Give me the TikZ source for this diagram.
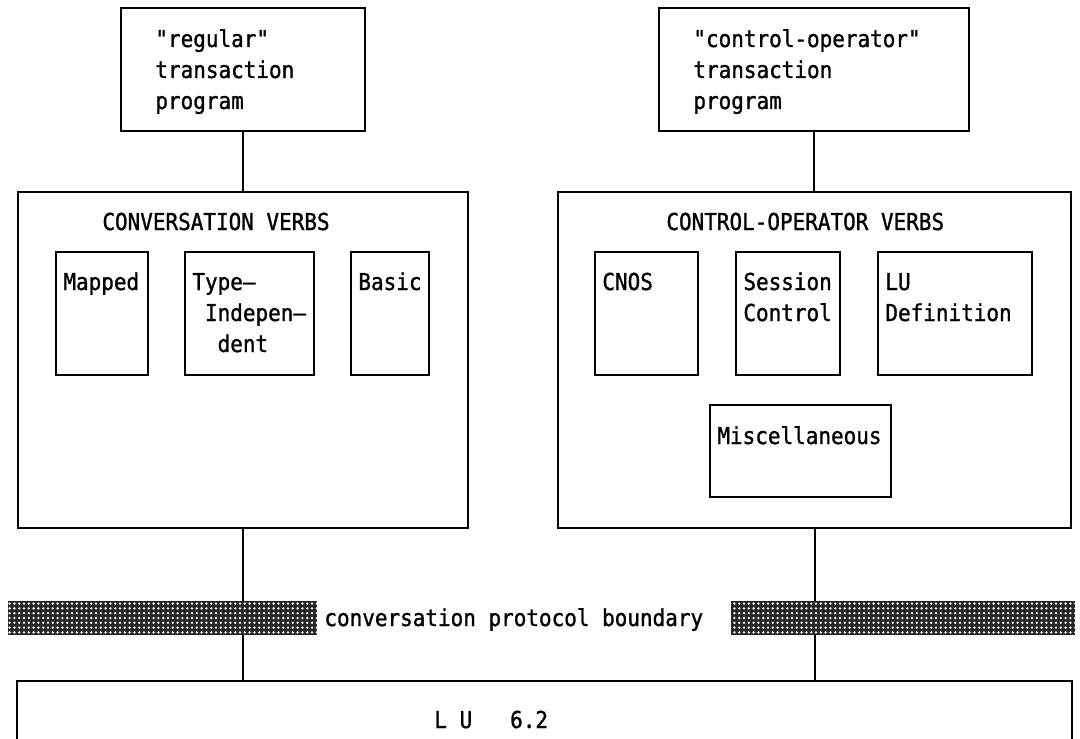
\documentclass[tikz,border=0pt]{standalone}
\usepackage{fontspec}
\newfontfamily\ibmfont[FakeStretch=0.9,FakeBold=1.2]{DejaVu Sans Mono}
\newcommand\ibmtext{\ibmfont\fontsize{11.65pt}{15.5pt}\selectfont}
\usetikzlibrary{patterns.meta}

\begin{document}
\begin{tikzpicture}[x=1pt,y=-1pt]
  \useasboundingbox (0,0) rectangle (540,369);
  \begin{scope}[every node/.style={draw,line width=1pt,anchor=north west,inner sep=0pt}]
  \node[minimum width=122pt,minimum height=61.5pt] (regtp) at (60,3.5) {};
  \node[minimum width=155pt,minimum height=61.5pt] (coptp) at (329,3.5) {};
  \node[minimum width=225pt,minimum height=168pt] (convverbs) at (8.5,95.5) {};
  \node[minimum width=256.5pt,minimum height=168pt] (copverbs) at (278.5,95.5) {};
  \node[minimum width=46pt,minimum height=61.5pt] (mapped) at (27.5,125.5) {};
  \node[minimum width=64.5pt,minimum height=61.5pt] (typeind) at (92,125.5) {};
  \node[minimum width=39pt,minimum height=61.5pt] (basic) at (175,125.5) {};
  \node[minimum width=51.5pt,minimum height=61.5pt] (cnos) at (297,125.5) {};
  \node[minimum width=52pt,minimum height=61.5pt] (sesctl) at (367.5,125.5) {};
  \node[minimum width=77pt,minimum height=61.5pt] (ludef) at (438.5,125.5) {};
  \node[minimum width=90.5pt,minimum height=46pt] (misc) at (354.5,202) {};
  \node[minimum width=527.5pt,minimum height=40pt] (lu) at (8,340) {};
  \end{scope}
  \begin{scope}[every edge/.style={draw=black,line width=1pt}]
  \path (regtp.south) edge (regtp.south |- convverbs.north);
  \path (coptp.south) edge (coptp.south |- copverbs.north);
  \path (convverbs.south) edge (convverbs.south |- lu.north);
  \path (copverbs.south) edge (copverbs.south |- lu.north);
  \end{scope}
  \begin{scope}[every node/.style={anchor=north west,inner sep=0pt,minimum height=17pt,
      preaction={fill=black!85},pattern={Dots[distance=2.4pt,radius=0.65pt]},pattern color=white}]
  \node[minimum width=154.5pt] (bandl) at (4,300.5) {};
  \node[minimum width=172pt] (bandr) at (365.5,300.5) {};
  \end{scope}
  % base anchor sits on the last line, so shift = first baseline + (lines-1)*15.5
  \begin{scope}[every node/.style={font=\ibmtext,anchor=base west,align=left,inner sep=0pt}]
  \node (regtxt) at ([shift={(17.5,51)}]regtp.north west) {"regular"\\transaction\\program};
  \node (coptxt) at ([shift={(17.5,51)}]coptp.north west) {"control-operator"\\transaction\\program};
  \node (convtitle) at (51,115) {CONVERSATION VERBS};
  \node (coptitle) at (333,115) {CONTROL-OPERATOR VERBS};
  \node (mappedtxt) at ([shift={(4,19.5)}]mapped.north west) {Mapped};
  \node (typeindtxt) at ([shift={(4,50.5)}]typeind.north west) {Type–\\~Indepen–\\~~dent};
  \node (basictxt) at ([shift={(4,19.5)}]basic.north west) {Basic};
  \node (cnostxt) at ([shift={(4,19.5)}]cnos.north west) {CNOS};
  \node (sesctltxt) at ([shift={(4,35)}]sesctl.north west) {Session\\Control};
  \node (ludeftxt) at ([shift={(4,35)}]ludef.north west) {LU\\Definition};
  \node (misctxt) at ([shift={(4,20)}]misc.north west) {Miscellaneous};
  \node (boundary) at (162,313) {conversation protocol boundary};
  \node (lutxt) at (217,364) {L~U~~~6.2};
  \end{scope}
\end{tikzpicture}
\end{document}
